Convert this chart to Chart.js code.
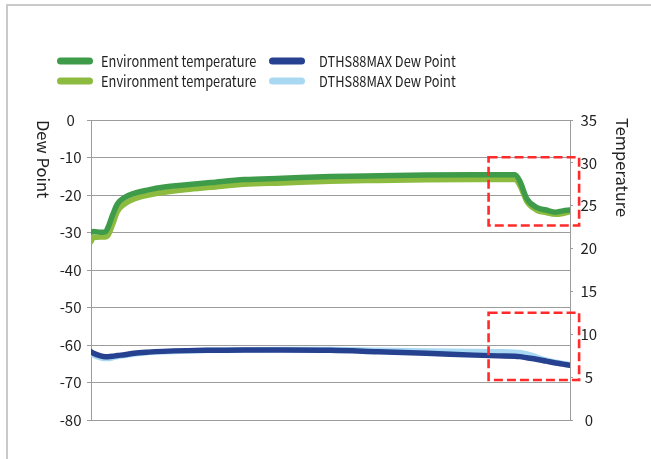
<!DOCTYPE html>
<html>
<head>
<meta charset="utf-8">
<script src="https://cdn.jsdelivr.net/npm/chart.js@4.4.1/dist/chart.umd.min.js"></script>
<style>
  html, body { margin: 0; padding: 0; background: #ffffff; overflow: hidden; }
  #frame { position: absolute; left: 6px; top: 4px; width: 2000px; height: 2000px; border: 2px solid #c9c9c9; box-sizing: border-box; }
  #wrap { position: absolute; left: 0; top: 0; width: 651px; height: 459px; }
</style>
</head>
<body>
<div id="frame"></div>
<div id="wrap"><canvas id="c" width="651" height="459"></canvas></div>
<script>
// ---- data ----
const labelsSeries = [
  "Environment temperature",
  "DTHS88MAX Dew Point",
  "Environment temperature",
  "DTHS88MAX Dew Point"
];
// relative time (0..100 across the plot)
const time = [0, 0.5, 2, 3, 3.5, 4.5, 5.5, 7, 9, 12, 15, 20, 25, 32, 40, 50, 60, 70, 80, 85, 88.5, 89.5, 91, 93, 95, 97, 98.5, 100];
// temperature (right axis, °C)
const envTempA = [21.9, 22.0, 21.9, 21.95, 22.4, 23.9, 25.2, 25.95, 26.45, 26.85, 27.15, 27.45, 27.7, 28.05, 28.2, 28.4, 28.5, 28.58, 28.62, 28.62, 28.6, 27.9, 25.8, 24.8, 24.5, 24.25, 24.4, 24.5];
const envTempB = [20.8, 21.3, 21.35, 21.35, 21.5, 22.8, 24.3, 25.2, 25.8, 26.25, 26.55, 26.9, 27.15, 27.5, 27.65, 27.85, 27.95, 28.03, 28.07, 28.07, 28.05, 27.4, 25.5, 24.5, 24.2, 24.0, 24.1, 24.3];
// dew point (left axis, °C)
const dewPointA = [-61.8, -62.2, -62.9, -63.1, -63.1, -63.0, -62.8, -62.6, -62.2, -61.9, -61.7, -61.5, -61.4, -61.3, -61.3, -61.4, -61.8, -62.2, -62.7, -62.9, -63.0, -63.1, -63.4, -63.8, -64.3, -64.8, -65.1, -65.4];
const dewPointB = [-62.2, -62.7, -63.4, -63.6, -63.6, -63.4, -63.1, -62.8, -62.4, -62.0, -61.8, -61.6, -61.4, -61.3, -61.2, -61.2, -61.4, -61.6, -61.7, -61.8, -61.9, -62.0, -62.4, -63.2, -64.0, -64.6, -64.9, -65.2];
// axis ranges / ticks
const dewTicks = { min: -80, max: 0, step: 10 };
const tempTicks = { min: 0, max: 35, step: 5 };
const axisTitles = { left: "Dew Point", right: "Temperature" };
// highlighted regions: [t0, t1, tempTop, tempBottom] in data units (right axis)
const highlightBoxes = [
  [83.0, 101.9, 30.65, 22.7],
  [83.0, 101.9, 12.52, 4.67]
];

const colors = ["#3e9b4a", "#26418f", "#8dbb40", "#a9d9f2"];
const FONT = '"Noto Sans CJK SC", "Noto Sans", sans-serif';
const TEXT = "#222222";
const GRID = "#9c9c9c";

function pts(ys) { return ys.map((y, i) => ({ x: time[i], y })); }

const datasets = [
  { label: labelsSeries[0], data: pts(envTempA), yAxisID: "yT" },
  { label: labelsSeries[1], data: pts(dewPointA), yAxisID: "yD" },
  { label: labelsSeries[2], data: pts(envTempB), yAxisID: "yT" },
  { label: labelsSeries[3], data: pts(dewPointB), yAxisID: "yD" }
].map((d, i) => Object.assign(d, {
  borderColor: colors[i],
  backgroundColor: colors[i],
  borderWidth: 5.5,
  pointRadius: 0,
  cubicInterpolationMode: "monotone",
  borderCapStyle: "round",
  borderJoinStyle: "round",
  fill: false
}));

const extrasPlugin = {
  id: "extras",
  afterDatasetsDraw(chart) {
    const ctx = chart.ctx;
    const xs = chart.scales.x, yT = chart.scales.yT;
    // red dashed highlight boxes
    ctx.save();
    ctx.strokeStyle = "#ff2b2b";
    ctx.lineWidth = 2.6;
    ctx.setLineDash([9, 4]);
    highlightBoxes.forEach(b => {
      const x0 = xs.getPixelForValue(b[0]), x1 = xs.getPixelForValue(b[1]);
      const y0 = yT.getPixelForValue(b[2]), y1 = yT.getPixelForValue(b[3]);
      ctx.strokeRect(x0, y0, x1 - x0, y1 - y0);
    });
    ctx.restore();
  },
  afterDraw(chart) {
    const ctx = chart.ctx;
    const area = chart.chartArea;
    ctx.save();
    ctx.fillStyle = TEXT;
    ctx.textBaseline = "middle";
    ctx.textAlign = "left";
    // axis titles, rotated top-to-bottom
    ctx.font = "16.5px " + FONT;
    [[axisTitles.left, 43, 0], [axisTitles.right, 622, -2]].forEach(([t, x, dy]) => {
      ctx.save();
      ctx.translate(x, area.top + dy);
      ctx.rotate(Math.PI / 2);
      ctx.fillText(t, 0, 0);
      ctx.restore();
    });
    // legend (2 x 2)
    ctx.font = "15px " + FONT;
    const colX = [57, 269], textOff = [44, 50], rowY = [61, 81];
    const layout = [[0, 0], [1, 0], [0, 1], [1, 1]]; // [col,row] per dataset
    chart.data.datasets.forEach((ds, i) => {
      const [c, r] = layout[i];
      const x = colX[c], y = rowY[r];
      ctx.fillStyle = ds.borderColor;
      ctx.beginPath();
      ctx.roundRect(x, y - 3.5, 36, 7, 3.5);
      ctx.fill();
      ctx.fillStyle = TEXT;
      ctx.save();
      ctx.translate(x + textOff[c], y);
      ctx.scale(0.855, 1);
      ctx.fillText(ds.label, 0, 0);
      ctx.restore();
    });
    ctx.restore();
  }
};

new Chart(document.getElementById("c"), {
  type: "line",
  data: { datasets },
  plugins: [extrasPlugin],
  options: {
    responsive: false,
    animation: false,
    layout: { padding: { top: 120, bottom: 39, left: 0, right: 0 } },
    plugins: { legend: { display: false }, tooltip: { enabled: false } },
    scales: {
      x: { type: "linear", min: 0, max: 100, display: false },
      yD: {
        position: "left",
        min: dewTicks.min, max: dewTicks.max,
        ticks: { stepSize: dewTicks.step, color: TEXT, font: { family: FONT, size: 15 }, crossAlign: "center", padding: 5.5 },
        grid: { color: GRID, lineWidth: 1, tickLength: 4, drawTicks: true },
        border: { display: true, color: GRID, width: 1 },
        afterFit(s) { s.width = 91; }
      },
      yT: {
        position: "right",
        min: tempTicks.min, max: tempTicks.max,
        ticks: { stepSize: tempTicks.step, color: TEXT, font: { family: FONT, size: 15 }, crossAlign: "center", padding: 7.5 },
        grid: { drawOnChartArea: false, color: GRID, lineWidth: 1, tickLength: 3 },
        border: { display: true, color: GRID, width: 1 },
        afterFit(s) { s.width = 81; }
      }
    }
  }
});
</script>
</body>
</html>
